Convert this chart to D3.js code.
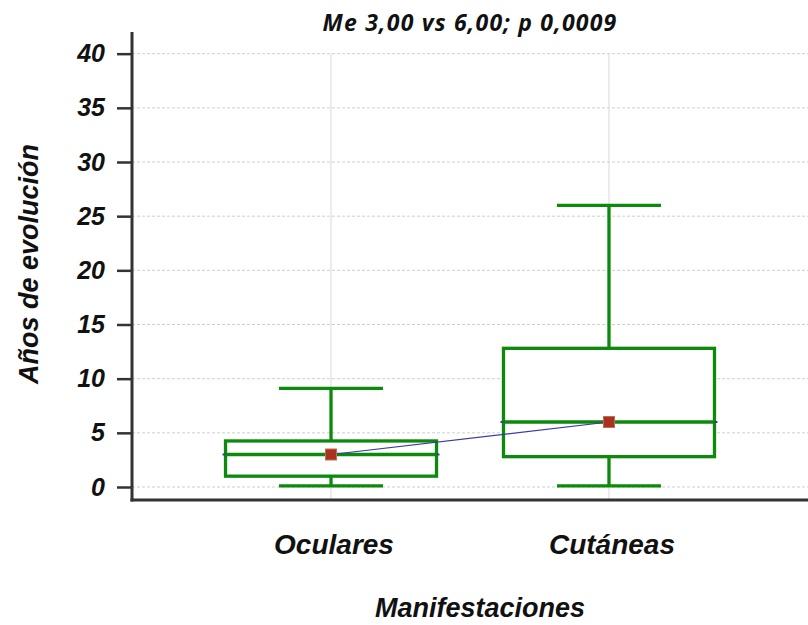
<!DOCTYPE html>
<html>
<head>
<meta charset="utf-8">
<script src="https://cdn.jsdelivr.net/npm/d3@7"></script>
<style>
  body { margin: 0; background: #fff; }
</style>
</head>
<body>
<div id="chart"></div>
<script>
// box plot stats
var categories = ["Oculares", "Cutáneas"];
var whiskerLow = [0.1, 0.1];
var q1 = [1.0, 2.8];
var median = [3.0, 6.0];
var q3 = [4.25, 12.8];
var whiskerHigh = [9.1, 26.0];
var yTicks = [0, 5, 10, 15, 20, 25, 30, 35, 40];
var title = "Me 3,00 vs 6,00; p 0,0009";

var width = 808, height = 625;
var margin = {top: 32, right: 0, bottom: 125, left: 132};

var svg = d3.select("#chart")
  .append("svg")
    .attr("width", width)
    .attr("height", height);

var x = d3.scalePoint()
    .domain(categories)
    .range([margin.left, width - margin.right])
    .padding(0.716);

var y = d3.scaleLinear()
    .domain([-1.2, 42])
    .range([height - margin.bottom, margin.top]);

var green = "#0c8a0c";
var boxW = 211, capW = 104, sw = 3.3;

// horizontal grid
svg.append("g")
  .selectAll("line")
  .data(yTicks)
  .join("line")
    .attr("x1", margin.left)
    .attr("x2", width)
    .attr("y1", d => y(d))
    .attr("y2", d => y(d))
    .attr("stroke", "#cfcfcf")
    .attr("stroke-width", 1)
    .attr("stroke-dasharray", "3,2");

// vertical grid at categories
svg.append("g")
  .selectAll("line")
  .data(categories)
  .join("line")
    .attr("x1", d => x(d))
    .attr("x2", d => x(d))
    .attr("y1", y(40))
    .attr("y2", height - margin.bottom)
    .attr("stroke", "#d8d8d8")
    .attr("stroke-width", 1);

var idx = d3.range(categories.length);
var g = svg.append("g");

// whisker stems
g.selectAll(".stem-hi")
  .data(idx)
  .join("line")
    .attr("x1", i => x(categories[i]))
    .attr("x2", i => x(categories[i]))
    .attr("y1", i => y(q3[i]))
    .attr("y2", i => y(whiskerHigh[i]))
    .attr("stroke", green).attr("stroke-width", sw);

g.selectAll(".stem-lo")
  .data(idx)
  .join("line")
    .attr("x1", i => x(categories[i]))
    .attr("x2", i => x(categories[i]))
    .attr("y1", i => y(q1[i]))
    .attr("y2", i => y(whiskerLow[i]))
    .attr("stroke", green).attr("stroke-width", sw);

// caps
[whiskerHigh, whiskerLow].forEach(function(arr) {
  g.append("g").selectAll("line")
    .data(idx)
    .join("line")
      .attr("x1", i => x(categories[i]) - capW / 2)
      .attr("x2", i => x(categories[i]) + capW / 2)
      .attr("y1", i => y(arr[i]))
      .attr("y2", i => y(arr[i]))
      .attr("stroke", green).attr("stroke-width", sw);
});

// boxes
g.selectAll("rect.box")
  .data(idx)
  .join("rect")
    .attr("class", "box")
    .attr("x", i => x(categories[i]) - boxW / 2)
    .attr("width", boxW)
    .attr("y", i => y(q3[i]))
    .attr("height", i => y(q1[i]) - y(q3[i]))
    .attr("fill", "#fff")
    .attr("stroke", green).attr("stroke-width", sw);

// blue median underlay (small ends stick out)
g.selectAll(".med-blue")
  .data(idx)
  .join("line")
    .attr("x1", i => x(categories[i]) - boxW / 2 - 3)
    .attr("x2", i => x(categories[i]) + boxW / 2 + 3)
    .attr("y1", i => y(median[i]))
    .attr("y2", i => y(median[i]))
    .attr("stroke", "#3a3aa0").attr("stroke-width", 2);

// median lines
g.selectAll(".med")
  .data(idx)
  .join("line")
    .attr("x1", i => x(categories[i]) - boxW / 2)
    .attr("x2", i => x(categories[i]) + boxW / 2)
    .attr("y1", i => y(median[i]))
    .attr("y2", i => y(median[i]))
    .attr("stroke", green).attr("stroke-width", sw);

// line connecting medians
svg.append("path")
  .datum(idx)
  .attr("fill", "none")
  .attr("stroke", "#3a3aa8")
  .attr("stroke-width", 1.2)
  .attr("d", d3.line()
    .x(i => x(categories[i]))
    .y(i => y(median[i])));

// median markers
svg.selectAll("rect.marker")
  .data(idx)
  .join("rect")
    .attr("class", "marker")
    .attr("x", i => x(categories[i]) - 5.5)
    .attr("y", i => y(median[i]) - 5.5)
    .attr("width", 11)
    .attr("height", 11)
    .attr("fill", "#a8321e")
    .attr("stroke", "#c86a5a")
    .attr("stroke-width", 1);

// y axis
var yAxis = svg.append("g")
  .attr("transform", "translate(" + margin.left + ",0)")
  .call(d3.axisLeft(y).tickValues(yTicks).tickSize(15).tickPadding(12).tickSizeOuter(0));
yAxis.select(".domain").remove();
yAxis.selectAll(".tick line").attr("stroke", "#333").attr("stroke-width", 2.5);
yAxis.selectAll(".tick text")
  .attr("fill", "#111")
  .style("font-family", "'Liberation Sans', Arial, sans-serif")
  .style("font-size", "25px")
  .style("font-weight", "bold")
  .style("font-style", "italic");

// axis lines
svg.append("line")
  .attr("x1", margin.left).attr("x2", margin.left)
  .attr("y1", margin.top).attr("y2", height - margin.bottom + 1.5)
  .attr("stroke", "#333").attr("stroke-width", 3);
svg.append("line")
  .attr("x1", margin.left - 1.5).attr("x2", width)
  .attr("y1", height - margin.bottom).attr("y2", height - margin.bottom)
  .attr("stroke", "#333").attr("stroke-width", 3);

var labelFont = "'Liberation Sans', Arial, sans-serif";

// category labels
svg.selectAll("text.cat")
  .data(categories)
  .join("text")
    .attr("class", "cat")
    .attr("x", d => x(d) + 3)
    .attr("y", 554)
    .attr("text-anchor", "middle")
    .style("font-family", labelFont)
    .style("font-size", "28px")
    .style("font-weight", "bold")
    .style("font-style", "italic")
    .attr("fill", "#111")
    .text(d => d);

// x axis title
svg.append("text")
  .attr("x", 480)
  .attr("y", 617)
  .attr("text-anchor", "middle")
  .style("font-family", labelFont)
  .style("font-size", "27px")
  .style("font-weight", "bold")
  .style("font-style", "italic")
  .attr("fill", "#111")
  .text("Manifestaciones");

// y axis title
svg.append("text")
  .attr("transform", "translate(38,264) rotate(-90)")
  .attr("text-anchor", "middle")
  .style("font-family", labelFont)
  .style("font-size", "27px")
  .style("font-weight", "bold")
  .style("font-style", "italic")
  .attr("fill", "#111")
  .text("Años de evolución");

// title
svg.append("text")
  .attr("x", 470)
  .attr("y", 31)
  .attr("text-anchor", "middle")
  .style("font-family", "'Open Sans', sans-serif")
  .style("font-size", "23px")
  .style("font-weight", "bold")
  .style("font-style", "italic")
  .style("letter-spacing", "1.2px")
  .attr("fill", "#111")
  .text(title);
</script>
</body>
</html>
